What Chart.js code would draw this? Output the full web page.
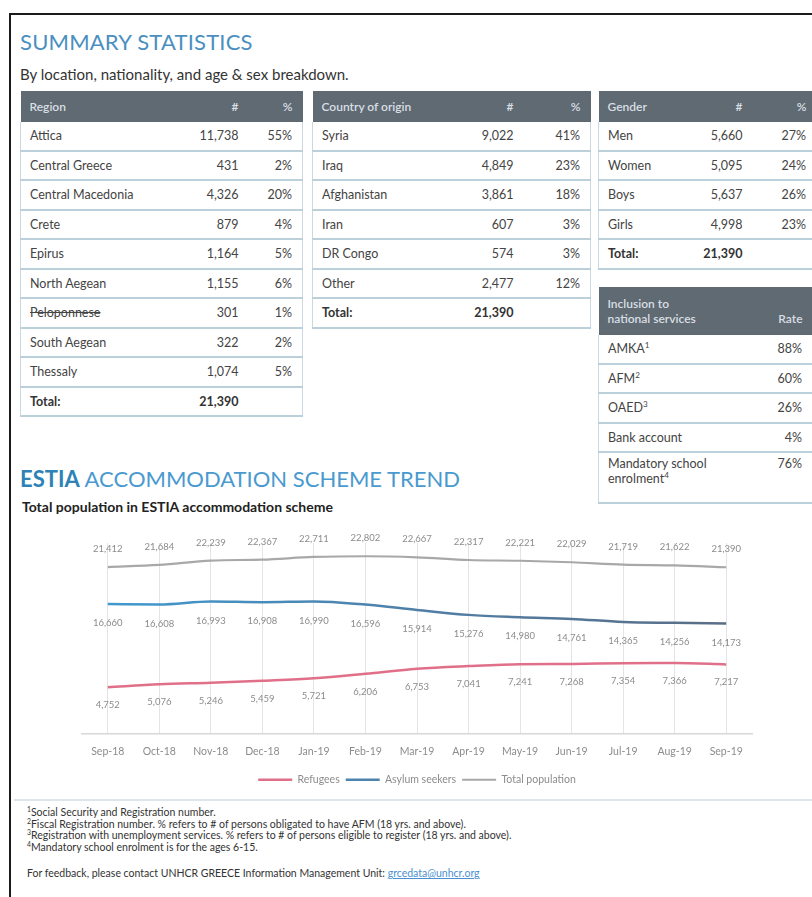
<!DOCTYPE html>
<html>
<head>
<meta charset="utf-8">
<script src="https://cdn.jsdelivr.net/npm/chart.js@4/dist/chart.umd.min.js"></script>
<style>
  html, body { margin:0; padding:0; background:#fff; }
  body { width:812px; height:897px; overflow:hidden; position:relative; font-family: Lato, "Open Sans", sans-serif; color:#3d3d3d; }
  .frame { position:absolute; left:9px; top:13px; width:900px; height:1000px; border-left:2px solid #1a1a1a; border-top:2px solid #1a1a1a; }
  .h1 { position:absolute; left:20px; top:28px; font-size:22px; color:#4a8fc0; letter-spacing:0.2px; }
  .sub { position:absolute; left:20px; top:65px; font-size:15px; color:#333; }
  table.st { position:absolute; border-collapse:collapse; table-layout:fixed; font-size:12.5px; color:#444; }
  table.st th { background:#5f6a73; color:#d9dfe4; font-weight:600; text-align:left; height:31px; padding:0 0 0 9px; font-size:12px; }
  table.st th.r, table.st td.r { text-align:right; }
  table.st td { height:27.5px; padding:0 0 0 9px; border-bottom:2px solid #bcd0db; border-left:1px solid #c9d9e2; border-right:1px solid #c9d9e2; }
  table.st td + td { border-left:none; }
  table.st td:not(:last-child) { border-right:none; }
  table.st td.pr { padding-right:10px; }
  table.st tr.tot td { font-weight:700; color:#333; }
  table.st sup, .notes sup { font-size:65%; line-height:0; vertical-align:super; }
  .h2 { position:absolute; left:20px; top:465px; font-size:22px; color:#4a9ad0; }
  .h2 b { color:#2e82b6; font-weight:700; }
  .h3 { position:absolute; left:22px; top:498px; font-size:14px; font-weight:700; color:#222; }
  #wrap { position:absolute; left:40px; top:520px; width:760px; height:280px; }
  .sep { position:absolute; left:14px; top:799px; width:800px; height:2px; background:#dce6ec; }
  .notes { position:absolute; left:27px; top:807px; font-size:10.5px; line-height:11.5px; color:#333; }
  .fb { position:absolute; left:27px; top:867px; font-size:10.5px; color:#333; }
  .fb a { color:#4a8fd0; text-decoration:underline; }
</style>
</head>
<body>
<div class="frame"></div>
<div class="h1">SUMMARY STATISTICS</div>
<div class="sub">By location, nationality, and age &amp; sex breakdown.</div>
<div id="tables"></div>
<div class="h2"><b>ESTIA</b> ACCOMMODATION SCHEME TREND</div>
<div class="h3">Total population in ESTIA accommodation scheme</div>
<div id="wrap"><canvas id="c"></canvas></div>
<div class="sep"></div>
<div class="notes">
<sup>1</sup>Social Security and Registration number.<br>
<sup>2</sup>Fiscal Registration number. % refers to # of persons obligated to have AFM (18 yrs. and above).<br>
<sup>3</sup>Registration with unemployment services. % refers to # of persons eligible to register (18 yrs. and above).<br>
<sup>4</sup>Mandatory school enrolment is for the ages 6-15.
</div>
<div class="fb">For feedback, please contact UNHCR GREECE Information Management Unit: <a>grcedata@unhcr.org</a></div>
<script>
// ---- table data ----
const regionNames = ["Attica","Central Greece","Central Macedonia","Crete","Epirus","North Aegean","Peloponnese","South Aegean","Thessaly"];
const regionCounts = ["11,738","431","4,326","879","1,164","1,155","301","322","1,074"];
const regionPct = ["55%","2%","20%","4%","5%","6%","1%","2%","5%"];
const countryNames = ["Syria","Iraq","Afghanistan","Iran","DR Congo","Other"];
const countryCounts = ["9,022","4,849","3,861","607","574","2,477"];
const countryPct = ["41%","23%","18%","3%","3%","12%"];
const genderNames = ["Men","Women","Boys","Girls"];
const genderCounts = ["5,660","5,095","5,637","4,998"];
const genderPct = ["27%","24%","26%","23%"];
const inclusionNames = ["AMKA<sup>1</sup>","AFM<sup>2</sup>","OAED<sup>3</sup>","Bank account","Mandatory school enrolment<sup>4</sup>"];
const inclusionRates = ["88%","60%","26%","4%","76%"];
const totalLabel = "21,390";

// ---- chart data ----
const months = ["Sep-18","Oct-18","Nov-18","Dec-18","Jan-19","Feb-19","Mar-19","Apr-19","May-19","Jun-19","Jul-19","Aug-19","Sep-19"];
const refugees = [4752,5076,5246,5459,5721,6206,6753,7041,7241,7268,7354,7366,7217];
const asylumSeekers = [16660,16608,16993,16908,16990,16596,15914,15276,14980,14761,14365,14256,14173];
const totalPopulation = [21412,21684,22239,22367,22711,22802,22667,22317,22221,22029,21719,21622,21390];

function mkTable(left, top, width, cols, head, names, counts, pcts, withTotal) {
  let h = '<table class="st" style="left:'+left+'px;top:'+top+'px;width:'+width+'px">';
  h += '<colgroup>' + cols.map(w=>'<col style="width:'+w+'px">').join('') + '</colgroup>';
  h += '<tr><th>'+head[0]+'</th><th class="r" style="padding:0">'+head[1]+'</th><th class="r" style="padding-right:10px">'+head[2]+'</th></tr>';
  names.forEach((n,i)=>{
    const st = n === "Peloponnese" ? ' style="text-decoration:line-through"' : '';
    h += '<tr><td'+st+'>'+n+'</td><td class="r" style="padding:0">'+counts[i]+'</td><td class="r pr">'+pcts[i]+'</td></tr>';
  });
  if (withTotal) h += '<tr class="tot"><td>Total:</td><td class="r" style="padding:0">'+totalLabel+'</td><td class="r pr"></td></tr>';
  h += '</table>';
  return h;
}
let html = '';
html += mkTable(20, 91, 282, [155,63,64], ["Region","#","%"], regionNames, regionCounts, regionPct, true);
html += mkTable(312, 91, 278, [140,61,77], ["Country of origin","#","%"], countryNames, countryCounts, countryPct, true);
html += mkTable(598, 91, 218, [84,60,74], ["Gender","#","%"], genderNames, genderCounts, genderPct, true);
// inclusion table
let t = '<table class="st" style="left:598px;top:287px;width:214px"><colgroup><col style="width:150px"><col style="width:64px"></colgroup>';
t += '<tr><th style="height:48px;line-height:15px">Inclusion to<br>national services</th><th class="r" style="padding-right:10px;vertical-align:bottom;padding-bottom:9px">Rate</th></tr>';
inclusionNames.forEach((n,i)=>{
  const two = i === inclusionNames.length-1;
  t += '<tr><td style="'+(two?'height:46px;line-height:15px;vertical-align:top;padding-top:3px':'')+'">'+n+'</td><td class="r pr" style="'+(two?'vertical-align:top;padding-top:3px':'')+'">'+inclusionRates[i]+'</td></tr>';
});
t += '</table>';
html += t;
document.getElementById('tables').innerHTML = html;

// ---- chart ----
const labelPlugin = {
  id: 'valueLabels',
  afterDatasetsDraw(chart) {
    const ctx = chart.ctx;
    ctx.save();
    ctx.font = '9.5px Lato, sans-serif';
    ctx.fillStyle = '#8c8c8c';
    ctx.textAlign = 'center';
    ctx.textBaseline = 'middle';
    chart.data.datasets.forEach((ds, i) => {
      const meta = chart.getDatasetMeta(i);
      meta.data.forEach((pt, j) => {
        ctx.fillText(ds.data[j].toLocaleString('en-US'), pt.x, pt.y + ds.labelDy);
      });
    });
    ctx.restore();
  }
};

function blueGrad(context) {
  const ca = context.chart.chartArea;
  if (!ca) return '#4a86b6';
  const g = context.chart.ctx.createLinearGradient(ca.left, 0, ca.right, 0);
  g.addColorStop(0, '#3f9bd2');
  g.addColorStop(0.5, '#4f7fa8');
  g.addColorStop(1, '#5b6c82');
  return g;
}

new Chart(document.getElementById('c'), {
  type: 'line',
  data: {
    labels: months,
    datasets: [
      { label: 'Refugees', data: refugees, borderColor: '#e0708a', backgroundColor: '#e0708a', borderWidth: 2.5, yAxisID: 'y2', labelDy: 18 },
      { label: 'Asylum seekers', data: asylumSeekers, borderColor: blueGrad, backgroundColor: '#4a86b6', borderWidth: 2.5, yAxisID: 'y', labelDy: 19 },
      { label: 'Total population', data: totalPopulation, borderColor: '#a8a8a8', backgroundColor: '#a8a8a8', borderWidth: 2.2, yAxisID: 'y', labelDy: -18 }
    ]
  },
  options: {
    responsive: true,
    maintainAspectRatio: false,
    animation: false,
    layout: { padding: { left: 42, right: 48, top: 23, bottom: 5 } },
    elements: {
      line: { tension: 0.4, cubicInterpolationMode: 'monotone' },
      point: { radius: 0, hoverRadius: 0 }
    },
    plugins: {
      legend: {
        position: 'bottom',
        labels: { usePointStyle: true, pointStyle: 'line', pointStyleWidth: 34, font: { size: 10.5, family: 'Lato' }, color: '#8c8c8c', padding: 6 }
      },
      tooltip: { enabled: false }
    },
    scales: {
      x: {
        offset: true,
        grid: { offset: false, color: '#e4e4e4', drawTicks: false, lineWidth: 1 },
        border: { color: '#d8d8d8', width: 1.5 },
        ticks: { font: { size: 10.5, family: 'Lato' }, color: '#8c8c8c', padding: 11, maxRotation: 0, autoSkip: false }
      },
      y: { display: false, min: 0, max: 24500 },
      y2: { display: false, min: -300, max: 20350 }
    }
  },
  plugins: [labelPlugin]
});
</script>
</body>
</html>
